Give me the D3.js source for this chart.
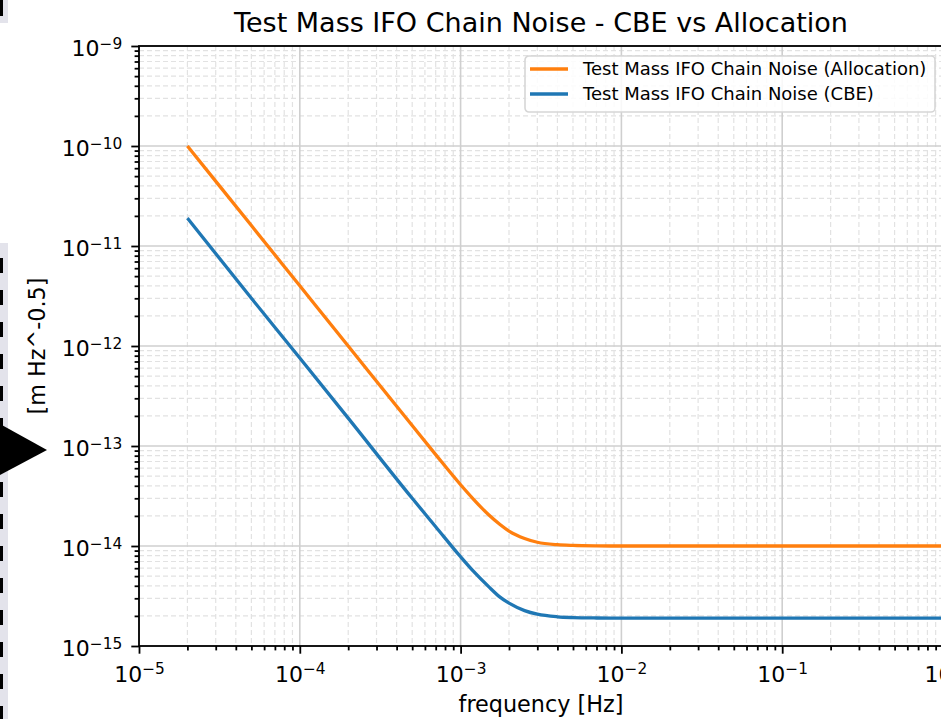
<!DOCTYPE html>
<html>
<head>
<meta charset="utf-8">
<script src="https://cdn.jsdelivr.net/npm/d3@7"></script>
<style>
  body { margin: 0; background: #fff; }
  svg { display: block; font-family: 'DejaVu Sans', sans-serif; }
</style>
</head>
<body>
<div id="chart"></div>
<script>
const width = 941;
const height = 719;
const marginLeft = 139;
const marginTop = 46;
const plotWidth = 804;
const plotHeight = 600;

const orange = '#ff7f0e';
const blue = '#1f77b4';

// frequency [Hz] and noise levels
const frequency = [2e-5, 5e-5, 1e-4, 2e-4, 5e-4, 7e-4, 1e-3, 1.2e-3, 1.5e-3, 1.75e-3,
  2e-3, 2.5e-3, 3e-3, 4e-3, 5e-3, 7e-3, 1e-2, 1e-1, 1];
const allocation = [1e-10, 1.6e-11, 4.0e-12, 1.0e-12, 1.6e-13, 8.2e-14, 4.1e-14, 2.95e-14, 2.04e-14, 1.65e-14,
  1.41e-14, 1.19e-14, 1.09e-14, 1.03e-14, 1.013e-14, 1.003e-14, 1.0e-14, 1.0e-14, 1.0e-14];
const cbe = [1.9e-11, 3.0e-12, 7.6e-13, 1.9e-13, 3.0e-14, 1.56e-14, 7.8e-15, 5.6e-15, 3.9e-15, 3.1e-15,
  2.68e-15, 2.26e-15, 2.08e-15, 1.96e-15, 1.925e-15, 1.906e-15, 1.9e-15, 1.9e-15, 1.9e-15];

const seriesNames = ['Test Mass IFO Chain Noise (Allocation)', 'Test Mass IFO Chain Noise (CBE)'];
const xTickExps = [-5, -4, -3, -2, -1, 0];
const yTickExps = [-15, -14, -13, -12, -11, -10, -9];

const svg = d3.select('#chart').append('svg')
  .attr('width', width)
  .attr('height', height);

const xScale = d3.scaleLog().domain([1e-5, 1]).range([marginLeft, marginLeft + plotWidth]);
const yScale = d3.scaleLog().domain([1e-15, 1e-9]).range([marginTop + plotHeight, marginTop]);

const minorOf = (exps) => {
  const out = [];
  exps.slice(0, -1).forEach((e) => {
    for (let k = 2; k <= 9; k++) out.push(k * Math.pow(10, e));
  });
  return out;
};
const xMajor = xTickExps.map((e) => Math.pow(10, e));
const yMajor = yTickExps.map((e) => Math.pow(10, e));
const xMinor = minorOf(xTickExps);
const yMinor = minorOf(yTickExps);

// grid
const grid = svg.append('g');
grid.selectAll('.xmin').data(xMinor).enter().append('line')
  .attr('x1', (d) => xScale(d)).attr('x2', (d) => xScale(d))
  .attr('y1', marginTop).attr('y2', marginTop + plotHeight)
  .attr('stroke', '#e2e2e2').attr('stroke-width', 1.2).attr('stroke-dasharray', '5,3');
grid.selectAll('.ymin').data(yMinor).enter().append('line')
  .attr('y1', (d) => yScale(d)).attr('y2', (d) => yScale(d))
  .attr('x1', marginLeft).attr('x2', marginLeft + plotWidth)
  .attr('stroke', '#e2e2e2').attr('stroke-width', 1.2).attr('stroke-dasharray', '5,3');
grid.selectAll('.xmaj').data(xMajor).enter().append('line')
  .attr('x1', (d) => xScale(d)).attr('x2', (d) => xScale(d))
  .attr('y1', marginTop).attr('y2', marginTop + plotHeight)
  .attr('stroke', '#cfcfcf').attr('stroke-width', 1.6);
grid.selectAll('.ymaj').data(yMajor).enter().append('line')
  .attr('y1', (d) => yScale(d)).attr('y2', (d) => yScale(d))
  .attr('x1', marginLeft).attr('x2', marginLeft + plotWidth)
  .attr('stroke', '#cfcfcf').attr('stroke-width', 1.6);

// lines
const line = d3.line()
  .x((d) => xScale(d[0]))
  .y((d) => yScale(d[1]))
  .curve(d3.curveMonotoneX);

[[allocation, orange], [cbe, blue]].forEach(([vals, color]) => {
  svg.append('path')
    .datum(frequency.map((f, i) => [f, vals[i]]))
    .attr('fill', 'none')
    .attr('stroke', color)
    .attr('stroke-width', 3.3)
    .attr('d', line);
});

// spines
svg.append('rect')
  .attr('x', marginLeft).attr('y', marginTop)
  .attr('width', plotWidth).attr('height', plotHeight)
  .attr('fill', 'none').attr('stroke', '#000').attr('stroke-width', 1.8);

// axes
const powLabel = (sel) => {
  sel.selectAll('.tick text').each(function (d) {
    const t = d3.select(this);
    const e = Math.round(Math.log10(d));
    t.text(null);
    t.append('tspan').text('10');
    t.append('tspan').attr('dy', '-0.5em').attr('font-size', '0.7em')
      .text(e < 0 ? '\u2212' + Math.abs(e) : String(e));
  });
};

const styleAxis = (g) => {
  g.select('.domain').remove();
  g.selectAll('.tick line').attr('stroke', '#000').attr('stroke-width', 1.8);
  g.selectAll('.tick text').attr('fill', '#000').attr('font-size', 22)
    .attr('font-family', 'DejaVu Sans, sans-serif');
};

const xAxisG = svg.append('g')
  .attr('transform', `translate(0, ${marginTop + plotHeight})`)
  .call(d3.axisBottom(xScale).tickValues(xMajor).tickSize(7.7).tickPadding(8).tickFormat(() => ''))
  .call(styleAxis);
xAxisG.selectAll('.tick text').attr('dy', '1em').attr('y', 14);
powLabel(xAxisG);
svg.append('g')
  .attr('transform', `translate(0, ${marginTop + plotHeight})`)
  .call(d3.axisBottom(xScale).tickValues(xMinor).tickSize(4.4).tickFormat(() => ''))
  .call(styleAxis);

const yAxisG = svg.append('g')
  .attr('transform', `translate(${marginLeft}, 0)`)
  .call(d3.axisLeft(yScale).tickValues(yMajor).tickSize(7.7).tickPadding(9).tickFormat(() => ''))
  .call(styleAxis);
yAxisG.selectAll('.tick text').attr('dy', '0.45em');
powLabel(yAxisG);
svg.append('g')
  .attr('transform', `translate(${marginLeft}, 0)`)
  .call(d3.axisLeft(yScale).tickValues(yMinor).tickSize(4.4).tickFormat(() => ''))
  .call(styleAxis);

// title and axis labels
svg.append('text')
  .attr('x', marginLeft + plotWidth / 2).attr('y', 32)
  .attr('text-anchor', 'middle').attr('font-size', 27)
  .text('Test Mass IFO Chain Noise - CBE vs Allocation');
svg.append('text')
  .attr('x', marginLeft + plotWidth / 2).attr('y', 712)
  .attr('text-anchor', 'middle').attr('font-size', 22.3)
  .text('frequency [Hz]');
svg.append('text')
  .attr('transform', `translate(45, ${marginTop + plotHeight / 2}) rotate(-90)`)
  .attr('text-anchor', 'middle').attr('font-size', 22.3)
  .text('[m Hz^-0.5]');

// legend
const legend = svg.append('g').attr('transform', 'translate(525, 56)');
legend.append('rect')
  .attr('width', 410).attr('height', 56).attr('rx', 4)
  .attr('fill', 'rgba(255,255,255,0.85)').attr('stroke', '#d6d6d6').attr('stroke-width', 1.6);
[orange, blue].forEach((color, i) => {
  legend.append('line')
    .attr('x1', 5).attr('x2', 43).attr('y1', 13 + i * 25).attr('y2', 13 + i * 25)
    .attr('stroke', color).attr('stroke-width', 3.3);
  legend.append('text')
    .attr('x', 58).attr('y', 19 + i * 25).attr('font-size', 18)
    .text(seriesNames[i]);
});

// screenshot decorations on the left edge
svg.append('rect').attr('x', 0).attr('y', 0).attr('width', 8).attr('height', 23).attr('fill', '#e3e3eb');
svg.append('rect').attr('x', 0).attr('y', 0).attr('width', 3).attr('height', 16).attr('fill', '#000');
svg.append('rect').attr('x', 0).attr('y', 243).attr('width', 8).attr('height', 476).attr('fill', '#e3e3eb');
svg.append('line').attr('x1', 1.5).attr('x2', 1.5).attr('y1', 258).attr('y2', 719)
  .attr('stroke', '#000').attr('stroke-width', 3).attr('stroke-dasharray', '15,17');
svg.append('path').attr('d', 'M0,424L47,450L0,475Z').attr('fill', '#000');
</script>
</body>
</html>
